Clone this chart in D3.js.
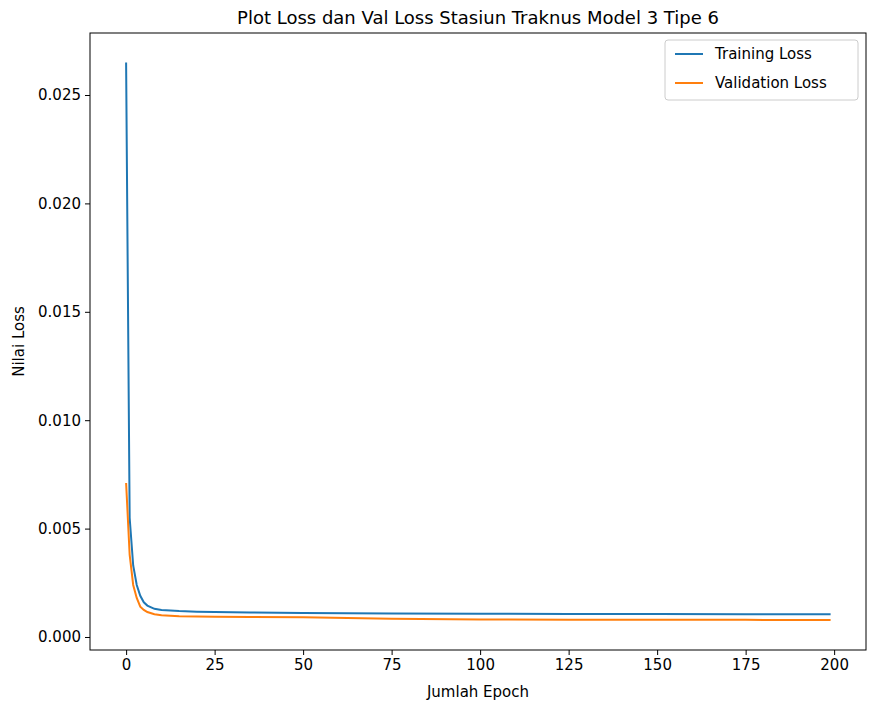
<!DOCTYPE html>
<html><head><meta charset="utf-8">
<script src="https://cdn.jsdelivr.net/npm/d3@7"></script>
<style>body{margin:0;background:#fff;font-family:"DejaVu Sans",sans-serif}</style>
</head><body><div class="chart"></div>
<script>
var epochs = [0, 1, 2, 3, 4, 5, 6, 8, 10, 15, 20, 25, 35, 50, 75, 100, 125, 150, 175, 199];
var trainLoss = [0.0265, 0.0055, 0.0033, 0.0024, 0.0019, 0.0016, 0.00145, 0.0013, 0.00125, 0.0012, 0.00117, 0.00115, 0.00113, 0.00111, 0.00108, 0.00107, 0.00106, 0.00106, 0.00105, 0.00105];
var valLoss = [0.0071, 0.0038, 0.0024, 0.0018, 0.0014, 0.00125, 0.00115, 0.00105, 0.001, 0.00096, 0.00094, 0.00093, 0.00092, 0.00091, 0.00084, 0.00081, 0.0008, 0.00079, 0.00079, 0.00078];
var xTicks = [0, 25, 50, 75, 100, 125, 150, 175, 200];
var yTicks = [0, 0.005, 0.01, 0.015, 0.02, 0.025];

var svgWidth = 875, svgHeight = 710;
var margin = {top: 33, right: 9, bottom: 60, left: 90};
var width = svgWidth - margin.left - margin.right;
var height = svgHeight - margin.top - margin.bottom;

var svg = d3.select(".chart").append("svg")
    .attr("width", svgWidth).attr("height", svgHeight);
var g = svg.append("g").attr("transform", `translate(${margin.left},${margin.top})`);

var x = d3.scaleLinear().domain([-10.2, 209]).range([0, width]);
var y = d3.scaleLinear().domain([-0.0006, 0.02786]).range([height, 0]);

var xAxis = g.append("g").attr("transform", `translate(0,${height})`)
    .call(d3.axisBottom(x).tickValues(xTicks).tickFormat(d3.format("d")).tickSize(5).tickPadding(4));
var yAxis = g.append("g")
    .call(d3.axisLeft(y).tickValues(yTicks).tickFormat(d3.format(".3f")).tickSize(5).tickPadding(4));
[xAxis, yAxis].forEach(function (a) {
    a.select(".domain").remove();
    a.selectAll("text").attr("font-size", 15).attr("fill", "#000").attr("font-family", "DejaVu Sans");
    a.selectAll("line").attr("stroke", "#000");
});
g.append("rect").attr("width", width).attr("height", height)
    .attr("fill", "none").attr("stroke", "#000").attr("stroke-width", 1);

var line = function (vals) {
    return d3.line().x(function (d, i) { return x(epochs[i]); }).y(function (d) { return y(d); })(vals);
};
g.append("path").attr("d", line(trainLoss)).attr("fill", "none").attr("stroke", "#1f77b4").attr("stroke-width", 2);
g.append("path").attr("d", line(valLoss)).attr("fill", "none").attr("stroke", "#ff7f0e").attr("stroke-width", 2);

svg.append("text").attr("x", margin.left + width / 2).attr("y", 24).attr("text-anchor", "middle")
    .attr("font-size", 18).text("Plot Loss dan Val Loss Stasiun Traknus Model 3 Tipe 6");
svg.append("text").attr("x", margin.left + width / 2).attr("y", 697).attr("text-anchor", "middle")
    .attr("font-size", 15).text("Jumlah Epoch");
svg.append("text").attr("transform", `translate(24,${margin.top + height / 2}) rotate(-90)`)
    .attr("text-anchor", "middle").attr("font-size", 15).text("Nilai Loss");

var legend = svg.append("g").attr("transform", "translate(665,40)");
legend.append("rect").attr("width", 193).attr("height", 60).attr("rx", 3)
    .attr("fill", "#fff").attr("stroke", "#ccc");
[["Training Loss", "#1f77b4"], ["Validation Loss", "#ff7f0e"]].forEach(function (d, i) {
    var yy = 14 + i * 29;
    legend.append("line").attr("x1", 10).attr("x2", 38).attr("y1", yy).attr("y2", yy)
        .attr("stroke", d[1]).attr("stroke-width", 2);
    legend.append("text").attr("x", 50).attr("y", yy + 5).attr("font-size", 15).text(d[0]);
});
</script></body></html>
